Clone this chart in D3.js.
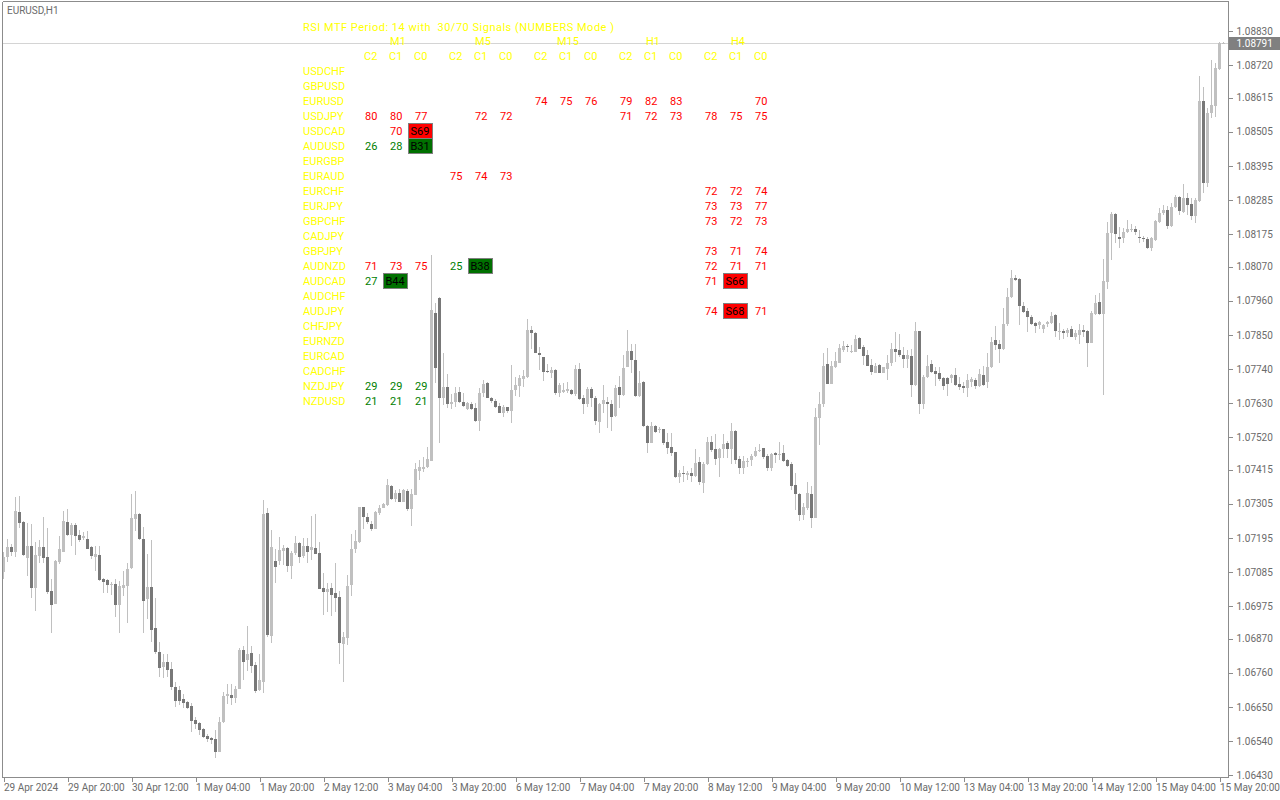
<!DOCTYPE html>
<html><head><meta charset="utf-8">
<script src="https://cdn.jsdelivr.net/npm/d3@7"></script>
<style>html,body{margin:0;padding:0;background:#fff;overflow:hidden}svg{display:block}</style>
</head><body><svg id="c" width="1280" height="800"></svg>
<script>
const openP = [
1.07086,1.07132,1.07167,1.07150,1.07278,1.07246,1.07131,1.07169,1.07034,1.07138,
1.07166,1.07133,1.07024,1.06982,1.07118,1.07150,1.07246,1.07204,1.07238,1.07205,
1.07193,1.07191,1.07166,1.07133,1.07140,1.07063,1.07059,1.07042,1.07046,1.06978,
1.07034,1.07040,1.07097,1.07256,1.07273,1.07191,1.06998,1.07036,1.06905,1.06827,
1.06778,1.06795,1.06772,1.06715,1.06704,1.06674,1.06667,1.06653,1.06607,1.06597,
1.06579,1.06557,1.06550,1.06546,1.06505,1.06600,1.06685,1.06688,1.06679,1.06709,
1.06833,1.06801,1.06824,1.06785,1.06704,1.06729,1.07276,1.06879,1.07121,1.07121,
1.07154,1.07162,1.07105,1.07145,1.07178,1.07136,1.07169,1.07157,1.07162,1.07146,
1.07034,1.07021,1.07034,1.07016,1.07004,1.06854,1.06873,1.07043,1.07158,1.07183,
1.07293,1.07263,1.07240,1.07225,1.07276,1.07292,1.07301,1.07362,1.07321,1.07341,
1.07312,1.07347,1.07287,1.07333,1.07412,1.07416,1.07423,1.07444,1.07921,1.07968,
1.07647,1.07683,1.07626,1.07634,1.07666,1.07634,1.07611,1.07627,1.07614,1.07572,
1.07661,1.07693,1.07647,1.07638,1.07621,1.07599,1.07616,1.07605,1.07672,1.07685,
1.07707,1.07715,1.07866,1.07857,1.07792,1.07777,1.07733,1.07728,1.07736,1.07663,
1.07667,1.07670,1.07672,1.07659,1.07740,1.07646,1.07627,1.07675,1.07647,1.07570,
1.07627,1.07633,1.07627,1.07588,1.07682,1.07657,1.07747,1.07797,1.07769,1.07653,
1.07698,1.07556,1.07502,1.07556,1.07542,1.07546,1.07504,1.07488,1.07472,1.07392,
1.07405,1.07399,1.07405,1.07396,1.07440,1.07371,1.07432,1.07504,1.07483,1.07454,
1.07481,1.07501,1.07482,1.07540,1.07449,1.07419,1.07440,1.07445,1.07460,1.07476,
1.07485,1.07460,1.07421,1.07470,1.07463,1.07470,1.07446,1.07433,1.07365,1.07338,
1.07270,1.07292,1.07336,1.07260,1.07583,1.07626,1.07757,1.07692,1.07747,1.07760,
1.07801,1.07815,1.07795,1.07795,1.07840,1.07812,1.07785,1.07753,1.07728,1.07753,
1.07728,1.07740,1.07760,1.07804,1.07801,1.07785,1.07772,1.07782,1.07687,1.07862,
1.07627,1.07713,1.07756,1.07733,1.07728,1.07712,1.07711,1.07710,1.07720,1.07691,
1.07686,1.07677,1.07699,1.07704,1.07686,1.07720,1.07699,1.07745,1.07833,1.07820,
1.07804,1.07884,1.07971,1.08032,1.08030,1.07943,1.07927,1.07909,1.07889,1.07882,
1.07868,1.07884,1.07887,1.07914,1.07859,1.07862,1.07857,1.07869,1.07844,1.07849,
1.07865,1.07862,1.07825,1.07917,1.07956,1.07916,1.08019,1.08177,1.08240,1.08167,
1.08161,1.08181,1.08188,1.08191,1.08167,1.08163,1.08159,1.08129,1.08156,1.08215,
1.08244,1.08253,1.08202,1.08261,1.08296,1.08247,1.08290,1.08272,1.08234,1.08283,
1.08604,1.08341,1.08567,1.08588,1.08706,1.08789];
const highP = [
1.07150,1.07190,1.07175,1.07328,1.07330,1.07248,1.07244,1.07240,1.07182,1.07188,
1.07263,1.07227,1.07062,1.07124,1.07201,1.07282,1.07288,1.07244,1.07242,1.07220,
1.07215,1.07217,1.07169,1.07169,1.07169,1.07064,1.07061,1.07052,1.07061,1.07056,
1.07088,1.07113,1.07336,1.07346,1.07274,1.07231,1.07143,1.07188,1.07000,1.06859,
1.06820,1.06820,1.06796,1.06729,1.06717,1.06691,1.06670,1.06663,1.06616,1.06600,
1.06582,1.06561,1.06554,1.06575,1.06618,1.06698,1.06724,1.06724,1.06717,1.06839,
1.06846,1.06911,1.06846,1.06796,1.06820,1.07317,1.07291,1.07220,1.07158,1.07197,
1.07172,1.07164,1.07153,1.07201,1.07182,1.07193,1.07193,1.07266,1.07272,1.07182,
1.07081,1.07050,1.07048,1.07115,1.07024,1.06892,1.07075,1.07207,1.07220,1.07296,
1.07296,1.07274,1.07248,1.07283,1.07301,1.07309,1.07385,1.07364,1.07349,1.07354,
1.07354,1.07352,1.07352,1.07438,1.07446,1.07455,1.07487,1.08107,1.07952,1.07971,
1.07790,1.07724,1.07659,1.07683,1.07683,1.07661,1.07634,1.07634,1.07629,1.07680,
1.07704,1.07699,1.07650,1.07642,1.07629,1.07623,1.07618,1.07753,1.07715,1.07720,
1.07737,1.07900,1.07878,1.07859,1.07812,1.07780,1.07756,1.07747,1.07739,1.07693,
1.07696,1.07699,1.07676,1.07753,1.07760,1.07656,1.07683,1.07683,1.07653,1.07631,
1.07688,1.07650,1.07640,1.07688,1.07717,1.07785,1.07866,1.07820,1.07820,1.07733,
1.07700,1.07558,1.07568,1.07558,1.07552,1.07547,1.07534,1.07532,1.07473,1.07414,
1.07427,1.07412,1.07420,1.07482,1.07457,1.07441,1.07519,1.07524,1.07530,1.07484,
1.07530,1.07508,1.07564,1.07542,1.07459,1.07459,1.07454,1.07464,1.07487,1.07498,
1.07486,1.07464,1.07470,1.07473,1.07504,1.07494,1.07448,1.07439,1.07403,1.07339,
1.07306,1.07374,1.07363,1.07613,1.07667,1.07790,1.07806,1.07764,1.07795,1.07820,
1.07831,1.07820,1.07817,1.07849,1.07844,1.07817,1.07801,1.07771,1.07758,1.07756,
1.07747,1.07785,1.07825,1.07860,1.07853,1.07810,1.07801,1.07803,1.07892,1.07863,
1.07720,1.07785,1.07769,1.07745,1.07747,1.07715,1.07715,1.07724,1.07744,1.07715,
1.07699,1.07724,1.07715,1.07710,1.07741,1.07749,1.07790,1.07844,1.07880,1.07833,
1.07938,1.08000,1.08059,1.08043,1.08032,1.07957,1.07935,1.07914,1.07892,1.07893,
1.07885,1.07896,1.07925,1.07916,1.07887,1.07870,1.07873,1.07878,1.07865,1.07884,
1.07882,1.07865,1.07927,1.07978,1.07984,1.08095,1.08215,1.08247,1.08244,1.08199,
1.08193,1.08220,1.08207,1.08201,1.08188,1.08169,1.08167,1.08167,1.08220,1.08258,
1.08269,1.08265,1.08274,1.08301,1.08298,1.08336,1.08306,1.08290,1.08290,1.08686,
1.08648,1.08581,1.08736,1.08726,1.08796,1.08796];
const lowP = [
1.07062,1.07118,1.07136,1.07134,1.07228,1.07136,1.07072,1.07002,1.06959,1.07113,
1.07113,1.07013,1.06889,1.06981,1.07111,1.07148,1.07201,1.07170,1.07140,1.07183,
1.07188,1.07158,1.07127,1.07088,1.07057,1.07018,1.07016,1.07011,1.06941,1.06889,
1.07007,1.06921,1.07093,1.07217,1.07188,1.06889,1.06932,1.06860,1.06820,1.06747,
1.06742,1.06745,1.06704,1.06650,1.06655,1.06646,1.06642,1.06570,1.06578,1.06559,
1.06548,1.06536,1.06530,1.06484,1.06504,1.06599,1.06659,1.06657,1.06663,1.06706,
1.06736,1.06766,1.06760,1.06696,1.06702,1.06693,1.06876,1.06857,1.07048,1.07107,
1.07107,1.07086,1.07061,1.07140,1.07115,1.07131,1.07113,1.07124,1.07143,1.07029,
1.06946,1.06957,1.06943,1.06957,1.06789,1.06731,1.06849,1.07009,1.07145,1.07179,
1.07223,1.07240,1.07218,1.07223,1.07269,1.07290,1.07298,1.07317,1.07312,1.07310,
1.07310,1.07283,1.07234,1.07332,1.07382,1.07407,1.07420,1.07442,1.07696,1.07502,
1.07624,1.07613,1.07610,1.07618,1.07629,1.07618,1.07607,1.07607,1.07570,1.07541,
1.07648,1.07645,1.07629,1.07613,1.07597,1.07584,1.07597,1.07567,1.07653,1.07650,
1.07681,1.07712,1.07803,1.07790,1.07736,1.07702,1.07726,1.07710,1.07656,1.07650,
1.07661,1.07663,1.07657,1.07653,1.07640,1.07595,1.07618,1.07618,1.07559,1.07532,
1.07597,1.07548,1.07541,1.07586,1.07615,1.07653,1.07745,1.07726,1.07650,1.07650,
1.07554,1.07470,1.07500,1.07534,1.07532,1.07494,1.07464,1.07459,1.07389,1.07371,
1.07376,1.07382,1.07376,1.07392,1.07365,1.07341,1.07430,1.07473,1.07430,1.07390,
1.07451,1.07451,1.07432,1.07433,1.07400,1.07400,1.07425,1.07428,1.07457,1.07473,
1.07449,1.07412,1.07412,1.07438,1.07446,1.07441,1.07425,1.07349,1.07285,1.07249,
1.07251,1.07285,1.07228,1.07258,1.07494,1.07616,1.07690,1.07690,1.07742,1.07758,
1.07796,1.07796,1.07790,1.07793,1.07803,1.07753,1.07750,1.07720,1.07726,1.07726,
1.07726,1.07704,1.07749,1.07762,1.07780,1.07744,1.07742,1.07650,1.07685,1.07593,
1.07611,1.07710,1.07726,1.07685,1.07702,1.07672,1.07654,1.07696,1.07685,1.07672,
1.07661,1.07648,1.07683,1.07674,1.07683,1.07685,1.07678,1.07742,1.07801,1.07760,
1.07801,1.07880,1.07968,1.08025,1.07882,1.07921,1.07860,1.07882,1.07857,1.07868,
1.07857,1.07876,1.07885,1.07844,1.07833,1.07835,1.07844,1.07842,1.07833,1.07819,
1.07844,1.07745,1.07822,1.07914,1.07914,1.07656,1.07997,1.08091,1.08145,1.08129,
1.08145,1.08177,1.08183,1.08172,1.08145,1.08150,1.08127,1.08121,1.08154,1.08212,
1.08236,1.08190,1.08199,1.08258,1.08236,1.08244,1.08236,1.08220,1.08210,1.08279,
1.08306,1.08328,1.08548,1.08552,1.08704,1.08788];
const closeP = [
1.07132,1.07167,1.07150,1.07282,1.07244,1.07140,1.07169,1.07034,1.07140,1.07167,
1.07131,1.07021,1.06978,1.07121,1.07159,1.07249,1.07204,1.07238,1.07201,1.07188,
1.07201,1.07159,1.07136,1.07143,1.07059,1.07053,1.07043,1.07046,1.06978,1.07040,
1.07043,1.07095,1.07260,1.07273,1.07190,1.06991,1.07036,1.06898,1.06826,1.06776,
1.06795,1.06769,1.06715,1.06670,1.06670,1.06663,1.06646,1.06605,1.06595,1.06575,
1.06554,1.06547,1.06544,1.06505,1.06601,1.06685,1.06691,1.06679,1.06707,1.06833,
1.06796,1.06820,1.06783,1.06702,1.06736,1.07272,1.06882,1.07167,1.07102,1.07156,
1.07162,1.07105,1.07147,1.07178,1.07134,1.07169,1.07150,1.07166,1.07144,1.07031,
1.07021,1.07030,1.07011,1.07002,1.06857,1.06875,1.07040,1.07159,1.07185,1.07293,
1.07261,1.07247,1.07223,1.07278,1.07292,1.07304,1.07366,1.07321,1.07341,1.07312,
1.07349,1.07288,1.07336,1.07416,1.07423,1.07425,1.07448,1.07930,1.07744,1.07647,
1.07683,1.07626,1.07634,1.07663,1.07634,1.07621,1.07629,1.07611,1.07572,1.07663,
1.07691,1.07647,1.07638,1.07618,1.07599,1.07616,1.07604,1.07672,1.07688,1.07710,
1.07717,1.07866,1.07855,1.07792,1.07785,1.07731,1.07729,1.07736,1.07663,1.07688,
1.07672,1.07674,1.07659,1.07740,1.07644,1.07627,1.07674,1.07645,1.07573,1.07627,
1.07640,1.07627,1.07586,1.07678,1.07657,1.07742,1.07797,1.07769,1.07653,1.07696,
1.07556,1.07502,1.07556,1.07538,1.07547,1.07502,1.07486,1.07470,1.07392,1.07405,
1.07401,1.07404,1.07396,1.07436,1.07376,1.07433,1.07504,1.07478,1.07450,1.07482,
1.07498,1.07482,1.07540,1.07446,1.07421,1.07443,1.07443,1.07460,1.07476,1.07479,
1.07457,1.07421,1.07465,1.07463,1.07467,1.07443,1.07428,1.07363,1.07335,1.07270,
1.07293,1.07340,1.07260,1.07586,1.07628,1.07750,1.07692,1.07750,1.07767,1.07807,
1.07814,1.07812,1.07798,1.07836,1.07805,1.07783,1.07750,1.07731,1.07749,1.07728,
1.07746,1.07760,1.07804,1.07795,1.07785,1.07772,1.07785,1.07688,1.07862,1.07627,
1.07715,1.07749,1.07730,1.07724,1.07707,1.07685,1.07691,1.07720,1.07688,1.07682,
1.07680,1.07704,1.07709,1.07686,1.07724,1.07689,1.07745,1.07827,1.07818,1.07804,
1.07885,1.07971,1.08034,1.08027,1.07944,1.07925,1.07906,1.07885,1.07880,1.07891,
1.07882,1.07892,1.07912,1.07863,1.07863,1.07857,1.07865,1.07844,1.07857,1.07865,
1.07860,1.07825,1.07919,1.07954,1.07916,1.08025,1.08179,1.08240,1.08174,1.08158,
1.08183,1.08190,1.08190,1.08183,1.08161,1.08158,1.08129,1.08161,1.08217,1.08244,
1.08253,1.08202,1.08263,1.08296,1.08250,1.08290,1.08269,1.08234,1.08285,1.08604,
1.08341,1.08567,1.08591,1.08712,1.08792,1.08791];

const priceTicks = [1.08830,1.08720,1.08615,1.08505,1.08395,1.08285,1.08175,1.08070,1.07960,1.07850,1.07740,1.07630,1.07520,1.07415,1.07305,1.07195,1.07085,1.06975,1.06870,1.06760,1.06650,1.06540,1.06430];
const timeLabels = ["29 Apr 2024","29 Apr 20:00","30 Apr 12:00","1 May 04:00","1 May 20:00","2 May 12:00","3 May 04:00","3 May 20:00","6 May 12:00","7 May 04:00","7 May 20:00","8 May 12:00","9 May 04:00","9 May 20:00","10 May 12:00","13 May 04:00","13 May 20:00","14 May 12:00","15 May 04:00","15 May 20:00"];
const bidPrice = 1.08791;
const chartTitle = "EURUSD,H1";
const panelTitle = "RSI MTF Period: 14 with  30/70 Signals (NUMBERS Mode )";
const symbols = ["USDCHF","GBPUSD","EURUSD","USDJPY","USDCAD","AUDUSD","EURGBP","EURAUD","EURCHF","EURJPY","GBPCHF","CADJPY","GBPJPY","AUDNZD","AUDCAD","AUDCHF","AUDJPY","CHFJPY","EURNZD","EURCAD","CADCHF","NZDJPY","NZDUSD"];
const timeframes = ["M1","M5","M15","H1","H4"];
const barCols = ["C2","C1","C0"];
const _ = null;
// per row: M1 C2,C1,C0 | M5 | M15 | H1 | H4 ; strings = signal boxes
const rsiTable = [
[_,_,_, _,_,_, _,_,_, _,_,_, _,_,_],
[_,_,_, _,_,_, _,_,_, _,_,_, _,_,_],
[_,_,_, _,_,_, 74,75,76, 79,82,83, _,_,70],
[80,80,77, _,72,72, _,_,_, 71,72,73, 78,75,75],
[_,70,"S69", _,_,_, _,_,_, _,_,_, _,_,_],
[26,28,"B31", _,_,_, _,_,_, _,_,_, _,_,_],
[_,_,_, _,_,_, _,_,_, _,_,_, _,_,_],
[_,_,_, 75,74,73, _,_,_, _,_,_, _,_,_],
[_,_,_, _,_,_, _,_,_, _,_,_, 72,72,74],
[_,_,_, _,_,_, _,_,_, _,_,_, 73,73,77],
[_,_,_, _,_,_, _,_,_, _,_,_, 73,72,73],
[_,_,_, _,_,_, _,_,_, _,_,_, _,_,_],
[_,_,_, _,_,_, _,_,_, _,_,_, 73,71,74],
[71,73,75, 25,"B38",_, _,_,_, _,_,_, 72,71,71],
[27,"B44",_, _,_,_, _,_,_, _,_,_, 71,"S66",_],
[_,_,_, _,_,_, _,_,_, _,_,_, _,_,_],
[_,_,_, _,_,_, _,_,_, _,_,_, 74,"S68",71],
[_,_,_, _,_,_, _,_,_, _,_,_, _,_,_],
[_,_,_, _,_,_, _,_,_, _,_,_, _,_,_],
[_,_,_, _,_,_, _,_,_, _,_,_, _,_,_],
[_,_,_, _,_,_, _,_,_, _,_,_, _,_,_],
[29,29,29, _,_,_, _,_,_, _,_,_, _,_,_],
[21,21,21, _,_,_, _,_,_, _,_,_, _,_,_]
];

const svg = d3.select("#c");
const n = openP.length;
const plotLeft = 2.5, plotRight = 1228.5, plotTop = 1.5, plotBottom = 777.5;
const x = d3.scaleLinear().domain([0, n - 1]).range([3.5, 3.5 + 4 * (n - 1)]);
const y = d3.scaleLinear().domain([1.0643, 1.0883]).range([775, 31]);
const axisColor = "#6b6b6b";

// bid line
svg.append("line").attr("x1", plotLeft).attr("x2", plotRight).attr("y1", Math.round(y(bidPrice)) + 0.5).attr("y2", Math.round(y(bidPrice)) + 0.5)
  .attr("stroke", "#d4d4d4");

// candles
const bars = d3.range(n).map(i => ({ i, o: openP[i], h: highP[i], l: lowP[i], c: closeP[i] }));
const cg = svg.append("g").attr("shape-rendering", "crispEdges");
cg.selectAll("line").data(bars).join("line")
  .attr("x1", d => x(d.i)).attr("x2", d => x(d.i))
  .attr("y1", d => y(d.h)).attr("y2", d => y(d.l))
  .attr("stroke", "#c0c0c0").attr("stroke-width", 1);
cg.selectAll("rect").data(bars).join("rect")
  .attr("x", d => x(d.i) - 1.5).attr("width", 3)
  .attr("y", d => y(Math.max(d.o, d.c)))
  .attr("height", d => Math.max(1, Math.abs(y(d.o) - y(d.c))))
  .attr("fill", d => d.c >= d.o ? "#c0c0c0" : "#787878");

// frame
const fr = svg.append("g").attr("stroke", "#8c8c8c").attr("shape-rendering", "crispEdges");
fr.append("line").attr("x1", plotLeft).attr("x2", plotRight).attr("y1", plotTop).attr("y2", plotTop);
fr.append("line").attr("x1", plotLeft).attr("x2", plotLeft).attr("y1", plotTop).attr("y2", plotBottom);
fr.append("line").attr("x1", plotRight).attr("x2", plotRight).attr("y1", plotTop).attr("y2", plotBottom);
fr.append("line").attr("x1", plotLeft).attr("x2", plotRight).attr("y1", plotBottom).attr("y2", plotBottom);

// price axis
const pa = svg.append("g").attr("transform", `translate(${plotRight},0)`)
  .call(d3.axisRight(y).tickValues(priceTicks).tickFormat(d3.format(".5f")).tickSize(4).tickPadding(4));
pa.select(".domain").remove();
pa.selectAll("line").attr("stroke", "#8c8c8c").attr("shape-rendering", "crispEdges");
pa.selectAll("text").attr("fill", axisColor).style("font-family", "Roboto").style("font-size", "10px");

// time axis
const ta = svg.append("g").attr("transform", `translate(0,${plotBottom})`)
  .call(d3.axisBottom(x).tickValues(d3.range(0, n, 16)).tickFormat((d, k) => timeLabels[k]).tickSize(4).tickPadding(2.5));
ta.select(".domain").remove();
ta.selectAll("line").attr("stroke", "#8c8c8c").attr("shape-rendering", "crispEdges");
ta.selectAll("text").attr("text-anchor", "start").attr("x", 0).attr("fill", axisColor)
  .style("font-family", "Roboto").style("font-size", "10px");

// current price box
const by = y(bidPrice);
svg.append("rect").attr("x", 1229).attr("y", Math.round(by) - 6).attr("width", 51).attr("height", 13).attr("fill", "#808080");
svg.append("text").attr("x", 1236.5).attr("y", by + 3.5).attr("fill", "#ffffff")
  .style("font-family", "Roboto").style("font-size", "10px").text(d3.format(".5f")(bidPrice));

// chart title
svg.append("text").attr("x", 7).attr("y", 14.3).attr("fill", axisColor)
  .style("font-family", "Roboto").style("font-size", "10px").text(chartTitle);

// RSI table
const tbl = svg.append("g").style("font-family", "Roboto").style("font-size", "11px");
const yellow = "#ffff00";
const colX = (g, c) => 364 + 85 * g + 25 * c;
const rowY = r => 71 + 15 * r;
tbl.append("text").attr("x", 303).attr("y", 30.5).attr("fill", yellow).style("white-space", "pre")
  .attr("textLength", 311).attr("lengthAdjust", "spacing").text(panelTitle);
timeframes.forEach((tf, g) => {
  tbl.append("text").attr("x", colX(g, 1) + 9).attr("y", 45).attr("text-anchor", "middle").attr("fill", yellow).text(tf);
  barCols.forEach((bc, c) => tbl.append("text").attr("x", colX(g, c)).attr("y", 60).attr("fill", yellow).text(bc));
});
symbols.forEach((s, r) => tbl.append("text").attr("x", 303).attr("y", rowY(r) + 4).attr("fill", yellow).text(s));
rsiTable.forEach((row, r) => {
  row.forEach((v, k) => {
    if (v === null) return;
    const g = Math.floor(k / 3), c = k % 3;
    const cx = colX(g, c), cy = rowY(r);
    if (typeof v === "string") {
      const sell = v[0] === "S";
      tbl.append("rect").attr("x", cx - 5.5).attr("y", cy - 7.5).attr("width", 24).attr("height", 15)
        .attr("fill", sell ? "#ff0000" : "#007000").attr("stroke", "#808080").attr("shape-rendering", "crispEdges");
      tbl.append("text").attr("x", cx - 3.5).attr("y", cy + 4).attr("fill", "#000").text(v);
    } else {
      tbl.append("text").attr("x", cx + 1).attr("y", cy + 4)
        .attr("fill", v >= 70 ? "#ff0000" : "#008000").text(v);
    }
  });
});
</script>
</body></html>
